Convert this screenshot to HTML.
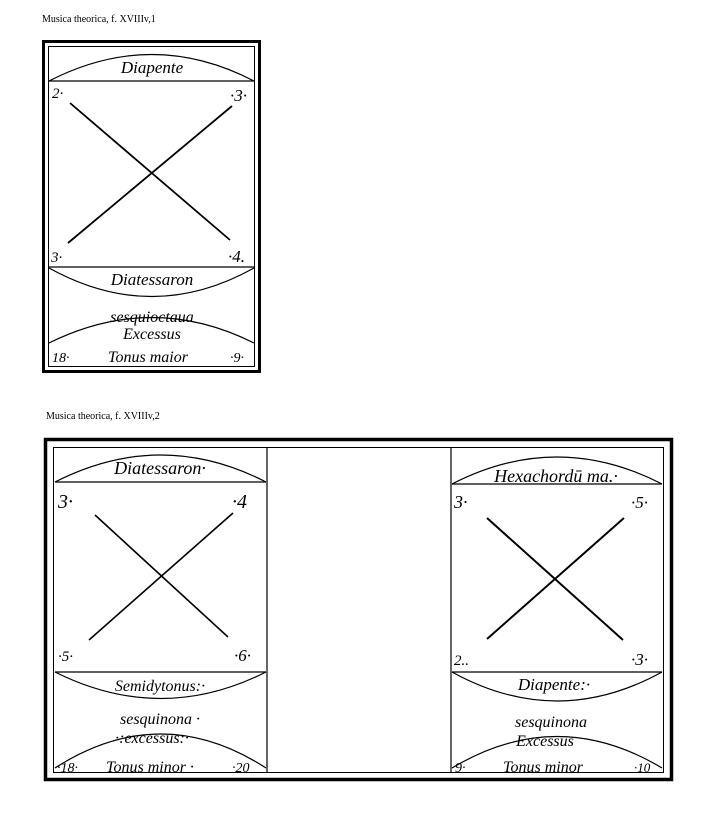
<!DOCTYPE html>
<html><head><meta charset="utf-8"><style>
body{margin:0;background:#fff;width:720px;height:828px;overflow:hidden}
svg{display:block}
.t{font-family:"Liberation Serif",serif;font-style:italic;fill:#000}
.c{font-family:"Liberation Serif",serif;font-size:10px;fill:#000}
</style></head><body>
<svg width="720" height="828" viewBox="0 0 720 828" xmlns="http://www.w3.org/2000/svg">
<text class="c" x="42" y="22">Musica theorica, f. XVIIIv,1</text>
<text class="c" x="46" y="419">Musica theorica, f. XVIIIv,2</text>
<g fill="none" stroke="#000">
<!-- fig 1 -->
<rect x="43.5" y="41.5" width="216" height="330" stroke-width="3"/>
<rect x="48.5" y="46.5" width="206" height="320" stroke-width="1"/>
<path d="M49 81 Q152 28 254 81" stroke-width="1.2"/>
<line x1="49" y1="81" x2="254" y2="81" stroke-width="1.2"/>
<line x1="70" y1="103" x2="230" y2="240" stroke-width="1.8"/>
<line x1="232" y1="106" x2="68" y2="243" stroke-width="1.8"/>
<line x1="49" y1="267" x2="254" y2="267" stroke-width="1.2"/>
<path d="M49 268 Q152 325 254 268" stroke-width="1.2"/>
<path d="M49 343 Q152 292 254 343" stroke-width="1.2"/>
<!-- fig 2 -->
<rect x="45.5" y="439.5" width="626" height="340" stroke-width="3.5"/>
<rect x="53.5" y="447.5" width="610" height="325" stroke-width="1"/>
<line x1="267" y1="448" x2="267" y2="772" stroke-width="1.2"/>
<line x1="451" y1="448" x2="451" y2="772" stroke-width="1.2"/>
<path d="M55 482 Q161 428 266 482" stroke-width="1.2"/>
<line x1="55" y1="482" x2="266" y2="482" stroke-width="1.2"/>
<line x1="95" y1="515" x2="228" y2="637" stroke-width="1.6"/>
<line x1="233" y1="513" x2="89" y2="640" stroke-width="1.6"/>
<line x1="55" y1="672" x2="266" y2="672" stroke-width="1.2"/>
<path d="M55 672 Q161 725 266 672" stroke-width="1.2"/>
<path d="M55 768 Q161 700 266 768" stroke-width="1.2"/>
<path d="M452 484 Q557 430 662 484" stroke-width="1.2"/>
<line x1="452" y1="484" x2="662" y2="484" stroke-width="1.2"/>
<line x1="487" y1="518" x2="623" y2="640" stroke-width="2"/>
<line x1="624" y1="518" x2="487" y2="639" stroke-width="2"/>
<line x1="452" y1="672" x2="662" y2="672" stroke-width="1.2"/>
<path d="M452 672 Q557 730 662 672" stroke-width="1.2"/>
<path d="M452 768 Q557 705 662 768" stroke-width="1.2"/>
</g>
<g class="t">
<text x="152" y="73" font-size="17" text-anchor="middle">Diapente</text>
<text x="52" y="98" font-size="15">2·</text>
<text x="230" y="101" font-size="17">·3·</text>
<text x="51" y="262" font-size="15">3·</text>
<text x="228" y="262" font-size="17">·4.</text>
<text x="152" y="285" font-size="17" text-anchor="middle">Diatessaron</text>
<text x="152" y="322" font-size="16" text-anchor="middle">sesquioctaua</text>
<text x="152" y="339" font-size="16" text-anchor="middle">Excessus</text>
<text x="52" y="362" font-size="14">18·</text>
<text x="148" y="362" font-size="16" text-anchor="middle">Tonus maior</text>
<text x="230" y="362" font-size="14">·9·</text>

<text x="160" y="474" font-size="18" text-anchor="middle">Diatessaron·</text>
<text x="58" y="508" font-size="20">3·</text>
<text x="232" y="508" font-size="20">·4</text>
<text x="58" y="661" font-size="15">·5·</text>
<text x="234" y="661" font-size="17">·6·</text>
<text x="160" y="691" font-size="16" text-anchor="middle">Semidytonus:·</text>
<text x="160" y="724" font-size="16" text-anchor="middle">sesquinona ·</text>
<text x="152" y="743" font-size="16" text-anchor="middle">·:excessus:·</text>
<text x="57" y="772" font-size="14">·18·</text>
<text x="150" y="772" font-size="16" text-anchor="middle">Tonus minor ·</text>
<text x="232" y="772" font-size="14">·20</text>

<text x="556" y="482" font-size="18" text-anchor="middle">Hexachordū ma.·</text>
<text x="454" y="508" font-size="18">3·</text>
<text x="631" y="508" font-size="17">·5·</text>
<text x="454" y="665" font-size="15">2..</text>
<text x="631" y="665" font-size="17">·3·</text>
<text x="554" y="690" font-size="17" text-anchor="middle">Diapente:·</text>
<text x="551" y="727" font-size="16" text-anchor="middle">sesquinona</text>
<text x="545" y="746" font-size="16" text-anchor="middle">Excessus</text>
<text x="455" y="772" font-size="14">9·</text>
<text x="543" y="772" font-size="16" text-anchor="middle">Tonus minor</text>
<text x="634" y="772" font-size="13">·10</text>
</g>
</svg>
</body></html>
